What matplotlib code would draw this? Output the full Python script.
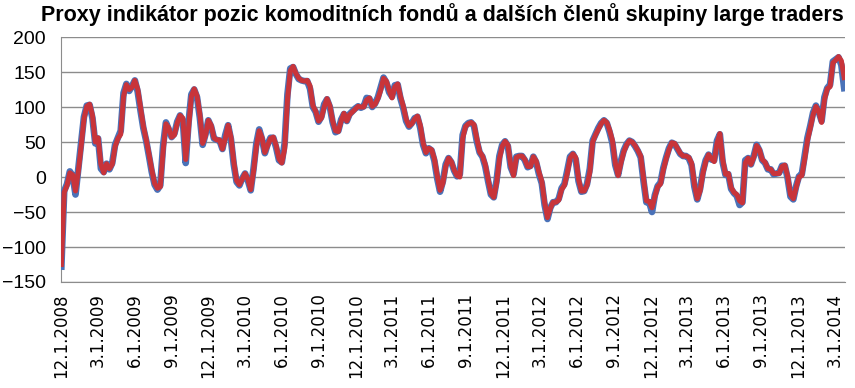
import matplotlib
matplotlib.use('Agg')
import matplotlib.pyplot as plt
import matplotlib.dates as mdates
from matplotlib.ticker import FuncFormatter
import pandas as pd

# weekly values, first week 2.12.2008
start_date = '2008-12-02'

red_values = [
    -125, -22, -12, 6, 3, -20, 8, 44, 83, 101,
    104, 88, 50, 56, 18, 6, 19, 12, 18, 43,
    55, 61, 115, 132, 125, 128, 138, 126, 99, 73,
    54, 33, 10, -9, -16, -14, 37, 76, 70, 57,
    60, 77, 88, 84, 25, 70, 115, 126, 116, 90,
    48, 59, 81, 74, 56, 53, 53, 40, 55, 74,
    57, 22, -5, -11, -3, 5, -3, -18, 8, 43,
    66, 56, 35, 45, 55, 57, 45, 26, 20, 40,
    110, 152, 158, 148, 141, 138, 137, 138, 130, 102,
    94, 80, 84, 100, 112, 102, 80, 66, 65, 80,
    91, 80, 89, 93, 97, 101, 100, 100, 110, 113,
    101, 104, 112, 124, 141, 137, 124, 113, 129, 133,
    115, 101, 83, 73, 76, 83, 87, 74, 49, 35,
    41, 39, 26, 2, -19, -9, 15, 27, 22, 10,
    2, 0, 55, 72, 76, 78, 75, 55, 36, 30,
    18, -3, -23, -29, -9, 26, 44, 51, 46, 17,
    2, 28, 30, 30, 25, 15, 15, 29, 23, 7,
    -6, -36, -58, -45, -36, -36, -33, -18, -12, 5,
    27, 33, 28, -3, -20, -20, -12, 7, 50, 60,
    68, 76, 81, 78, 67, 52, 20, 2, 20, 36,
    46, 52, 50, 45, 38, 30, -2, -34, -35, -44,
    -28, -14, -10, 10, 26, 39, 49, 48, 41, 34,
    30, 30, 28, 20, -10, -31, -20, 5, 22, 32,
    26, 22, 48, 62, 25, 4, 5, -15, -22, -25,
    -34, -37, 20, 27, 18, 28, 45, 39, 25, 21,
    12, 11, 5, 5, 5, 15, 17, 1, -25, -31,
    -15, 0, 2, 25, 52, 70, 89, 101, 94, 78,
    110, 126, 129, 163, 167, 172, 166, 142,
]

blue_values = [
    -128, -20, -10, 8, 2, -25, 12, 48, 86, 102,
    103, 84, 48, 55, 12, 7, 19, 11, 20, 46,
    56, 66, 120, 133, 123, 130, 138, 122, 95, 70,
    52, 30, 7, -11, -18, -12, 45, 78, 68, 57,
    62, 79, 88, 80, 20, 78, 118, 125, 114, 85,
    46, 61, 81, 72, 55, 53, 52, 40, 60, 74,
    54, 18, -7, -12, -2, 5, -5, -19, 12, 48,
    68, 54, 34, 47, 56, 56, 42, 24, 21, 48,
    118, 155, 157, 147, 140, 138, 137, 137, 126, 100,
    93, 79, 86, 104, 111, 100, 78, 64, 66, 82,
    90, 80, 90, 94, 98, 101, 99, 101, 113, 112,
    100, 105, 114, 128, 142, 135, 121, 115, 131, 132,
    112, 98, 80, 72, 77, 84, 86, 70, 46, 34,
    41, 38, 23, -2, -21, -6, 18, 27, 21, 9,
    1, 4, 60, 73, 77, 78, 73, 51, 35, 29,
    15, -6, -25, -29, -5, 30, 46, 51, 44, 14,
    4, 29, 30, 30, 24, 14, 16, 29, 21, 4,
    -9, -40, -60, -44, -36, -36, -31, -16, -10, 9,
    29, 33, 25, -6, -21, -20, -10, 12, 52, 61,
    70, 77, 81, 77, 64, 48, 17, 3, 23, 38,
    47, 52, 50, 44, 37, 28, -6, -36, -36, -50,
    -26, -13, -8, 13, 28, 41, 49, 47, 40, 33,
    30, 30, 27, 17, -14, -32, -17, 8, 24, 32,
    25, 24, 52, 61, 21, 3, 4, -17, -23, -27,
    -40, -36, 24, 27, 18, 30, 46, 38, 24, 20,
    11, 11, 4, 5, 6, 16, 16, -2, -28, -32,
    -13, 1, 4, 30, 56, 73, 92, 102, 93, 80,
    114, 127, 132, 165, 168, 171, 160, 127,
]

title = 'Proxy indikátor pozic komoditních fondů a dalších členů skupiny large traders'
y_ticks = [-150, -100, -50, 0, 50, 100, 150, 200]

dates = pd.date_range(start_date, periods=len(red_values), freq='7D')
tick_dates = pd.date_range('2008-12-01', '2014-03-01', freq='3MS')

fig = plt.figure(figsize=(8.55, 3.88), dpi=100)
ax = fig.add_axes([0.0713, 0.2732, 0.9170, 0.6314])

grid_col = '#8c8c8c'
ax.plot(dates, blue_values, color='#4a72b8', linewidth=4.8, solid_joinstyle='round', zorder=3)
ax.plot(dates, red_values, color='#c8343a', linewidth=3.6, solid_joinstyle='round', zorder=4)

ax.set_ylim(-150, 200)
ax.set_yticks(y_ticks)
ax.set_xlim(pd.Timestamp('2008-12-01'), pd.Timestamp('2014-03-27'))
ax.set_xticks(tick_dates)
ax.xaxis.set_major_formatter(FuncFormatter(
    lambda v, pos: '{d.month}.{d.day}.{d.year}'.format(d=mdates.num2date(v))))

ax.yaxis.grid(True, color=grid_col, linewidth=1.0)
ax.set_axisbelow(True)
for s in ['top', 'right']:
    ax.spines[s].set_visible(False)
ax.spines['left'].set_color(grid_col)
ax.spines['bottom'].set_color(grid_col)
ax.tick_params(axis='both', length=0)
ax.tick_params(axis='y', labelsize=14, pad=11)
ax.tick_params(axis='x', labelsize=12, pad=8, labelrotation=90)
for lbl in ax.get_yticklabels():
    lbl.set_fontfamily('Liberation Sans')

fig.text(0.517, 0.962, title, ha='center', va='center', fontsize=15.5,
         fontweight='bold', family='Liberation Sans')

fig.savefig('out.png', dpi=100)
